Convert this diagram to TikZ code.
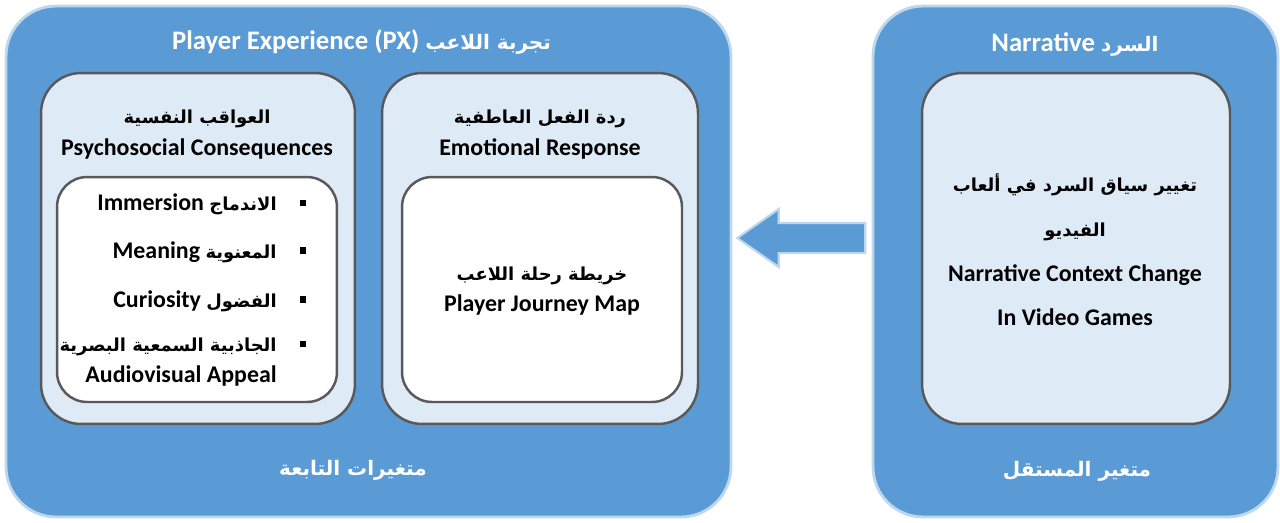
\documentclass[tikz,border=0pt]{standalone}
\usepackage{fontspec}
\setmainfont{Carlito}
\newfontfamily\arabicfont[Script=Arabic,Scale=0.75]{DejaVu Sans}
\TeXXeTstate=1
\newcommand\artxt[1]{{\arabicfont\beginR #1\endR}}
\usetikzlibrary{shapes.arrows}
\definecolor{outerblue}{HTML}{5B9BD5}
\definecolor{rimblue}{HTML}{BDD7EE}
\definecolor{paleblue}{HTML}{DEEBF7}
\definecolor{rimgray}{HTML}{595959}

\begin{document}
\begin{tikzpicture}[x=0.02cm,y=-0.02cm,font=\bfseries,
 outer/.style={draw=rimblue,line width=1.6pt,fill=outerblue,rounded corners=1cm,inner sep=0},
 group/.style={draw=rimgray,line width=1.4pt,fill=paleblue,rounded corners=0.8cm,inner sep=0},
 inbox/.style={draw=rimgray,line width=1.4pt,fill=white,rounded corners=0.6cm,inner sep=0},
 head/.style={font=\fontsize{15.2}{18}\bfseries,text=white,anchor=base},
 lbl/.style={font=\fontsize{13.6}{16}\bfseries,anchor=base},
 itm/.style={font=\fontsize{13.6}{16}\bfseries,anchor=base east,inner xsep=0},
 bul/.style={fill=black,minimum size=3.6pt,inner sep=0}]
\useasboundingbox (0,0) rectangle (1280,522);
% frames
\node[outer,minimum width=14.5cm,minimum height=10.22cm] (px) at (368.5,261.5) {};
\node[outer,minimum width=8.1cm,minimum height=10.22cm] (nar) at (1075.5,261.5) {};
\node[group,minimum width=6.28cm,minimum height=7.02cm] (psy) at (198,248.5) {};
\node[group,minimum width=6.32cm,minimum height=7.02cm] (emo) at (540,248.5) {};
\node[group,minimum width=6.16cm,minimum height=7.02cm] (ctx) at (1076,248.5) {};
\node[inbox,minimum width=5.6cm,minimum height=4.5cm] (psyin) at (197,289.5) {};
\node[inbox,minimum width=5.6cm,minimum height=4.5cm] (emoin) at (542,289.5) {};
% headings
\node[head] (pxt) at (361.5,49.5) {Player Experience (PX) \artxt{تجربة اللاعب}};
\node[head] (nart) at (1075,51) {Narrative \artxt{السرد}};
\node[head] (pxb) at (353,475) {\artxt{متغيرات التابعة}};
\node[head] (narb) at (1077,476) {\artxt{متغير المستقل}};
\node[lbl] (psya) at (197,123) {\artxt{العواقب النفسية}};
\node[lbl] (psye) at (197,155) {Psychosocial Consequences};
\node[lbl] (emoa) at (540,123) {\artxt{ردة الفعل العاطفية}};
\node[lbl] (emoe) at (540,155) {Emotional Response};
\node[lbl] (pjma) at (542,280) {\artxt{خريطة رحلة اللاعب}};
\node[lbl] (pjme) at (542,311.5) {Player Journey Map};
\node[lbl] (ctxa1) at (1075,191.5) {\artxt{تغيير سياق السرد في ألعاب}};
\node[lbl] (ctxa2) at (1075,236.5) {\artxt{الفيديو}};
\node[lbl] (ctxe1) at (1075,281.5) {Narrative Context Change};
\node[lbl] (ctxe2) at (1075,325) {In Video Games};
% bullet list
\foreach \yb/\art/\eng [count=\i] in {210.5/الاندماج/Immersion,258/المعنوية/Meaning,307/الفضول/Curiosity} {
  \node[itm] (it\i) at (277,\yb) {\eng\ \artxt{\art}};
  \node[bul] (b\i) at (303,\yb-7.5) {};
}
\node[itm] (it4) at (277,351.5) {\artxt{الجاذبية السمعية البصرية}};
\node[itm] (it4e) at (277,382) {Audiovisual Appeal};
\node[bul] (b4) at (303,344) {};
% arrow
\node[single arrow,shape border rotate=180,draw=rimblue,line width=1.2pt,fill=outerblue,
 minimum height=2.56cm,single arrow head extend=0.28cm,
 single arrow tip angle=70,inner sep=0] (arw) at (812,238) {\rule{0pt}{0.56cm}};
\end{tikzpicture}
\end{document}
